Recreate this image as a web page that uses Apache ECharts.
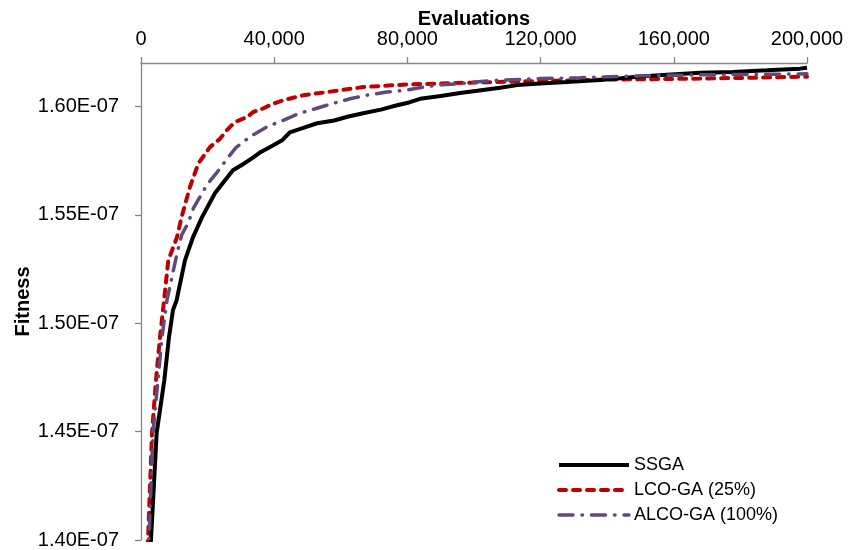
<!DOCTYPE html>
<html>
<head>
<meta charset="utf-8">
<script src="https://cdn.jsdelivr.net/npm/echarts@6/dist/echarts.min.js"></script>
<style>html,body{margin:0;padding:0;background:#fff;}#c{width:849px;height:550px;}</style>
</head>
<body>
<div id="c"></div>
<script>
// Fitness values are in units of 1E-07
const seriesNames = ['SSGA', 'LCO-GA (25%)', 'ALCO-GA (100%)'];
const xTicks = [0, 40000, 80000, 120000, 160000, 200000];
const yTicks = [1.40, 1.45, 1.50, 1.55, 1.60];

const ssgaEval = [2500, 3000, 4700, 7000, 8400, 9600, 10700, 13200, 15600, 18300, 22200, 25000, 27600, 30500, 33300, 36000, 39600, 42500, 44700, 48500, 52900, 58000, 62000, 66700, 72000, 76900, 80500, 83800, 90000, 95800, 101000, 107800, 113000, 119800, 127900, 137800, 144000, 149900, 158000, 167900, 177800, 188000, 197900, 200000];
const ssgaFit  = [1.390, 1.400, 1.4493, 1.4737, 1.4935, 1.5060, 1.5106, 1.5290, 1.5396, 1.5488, 1.5599, 1.5655, 1.5705, 1.5732, 1.5760, 1.5790, 1.5820, 1.5845, 1.5880, 1.5900, 1.5922, 1.5935, 1.5952, 1.5968, 1.5985, 1.6005, 1.6018, 1.6035, 1.6048, 1.6062, 1.6072, 1.6086, 1.6098, 1.6105, 1.6112, 1.6122, 1.6130, 1.6138, 1.6146, 1.6155, 1.6158, 1.6166, 1.6174, 1.6178];

const lcoEval = [1700, 2100, 3300, 4500, 5700, 6700, 8200, 10800, 12200, 14700, 17200, 20700, 23700, 25700, 28200, 31800, 33700, 36600, 39700, 42600, 48700, 56800, 66700, 79800, 97900, 119800, 137800, 167900, 182900, 200000];
const lcoFit  = [1.390, 1.400, 1.4493, 1.4737, 1.4935, 1.5075, 1.5290, 1.5396, 1.5490, 1.5628, 1.5736, 1.5812, 1.5850, 1.5889, 1.5928, 1.5950, 1.5974, 1.5990, 1.6012, 1.6028, 1.6051, 1.6068, 1.6089, 1.6101, 1.6109, 1.6117, 1.6123, 1.6128, 1.6132, 1.6137];

const alcoEval = [2000, 2400, 3600, 5100, 6300, 7800, 9200, 10700, 12200, 14200, 15700, 17700, 19900, 22900, 25900, 28500, 32900, 38200, 42700, 47200, 52300, 57300, 62800, 68000, 73800, 79300, 84800, 90400, 95800, 102100, 107800, 119800, 131800, 143800, 158000, 170900, 182900, 200000];
const alcoFit  = [1.390, 1.400, 1.4493, 1.4737, 1.4935, 1.5106, 1.5206, 1.5313, 1.5406, 1.5464, 1.5529, 1.5582, 1.5641, 1.5697, 1.5759, 1.5810, 1.5862, 1.5909, 1.5935, 1.5966, 1.5989, 1.6012, 1.6035, 1.6052, 1.6066, 1.6074, 1.6089, 1.6100, 1.6105, 1.6115, 1.6121, 1.6128, 1.6132, 1.6138, 1.6143, 1.6146, 1.6147, 1.6150];

function pairs(xs, ys) { return xs.map((x, i) => [x, ys[i]]); }
function fmtThousands(v) { return String(v).replace(/\B(?=(\d{3})+(?!\d))/g, ','); }

const FONT = '"Liberation Sans", Arial, sans-serif';
const axisGray = '#868686';

const chart = echarts.init(document.getElementById('c'), null, {renderer: 'canvas'});
chart.setOption({
  animation: false,
  backgroundColor: '#ffffff',
  grid: {left: 141, right: 42, top: 63, bottom: 10, containLabel: false, outerBoundsMode: 'none'},
  xAxis: {
    type: 'value', position: 'top',
    min: xTicks[0], max: xTicks[xTicks.length - 1], interval: xTicks[1] - xTicks[0],
    name: 'Evaluations', nameLocation: 'middle', nameGap: 34, nameMoveOverlap: false,
    nameTextStyle: {fontFamily: FONT, fontSize: 20, fontWeight: 'bold', color: '#000'},
    axisLine: {show: true, lineStyle: {color: axisGray, width: 1.3}},
    axisTick: {show: true, length: 6, lineStyle: {color: axisGray, width: 1.3}},
    axisLabel: {margin: 14, fontFamily: FONT, fontSize: 20, color: '#000', formatter: fmtThousands},
    splitLine: {show: false}
  },
  yAxis: {
    type: 'value',
    min: yTicks[0], max: 1.62, interval: 0.05,
    name: 'Fitness', nameLocation: 'middle', nameGap: 108, nameRotate: 90, nameMoveOverlap: false,
    nameTextStyle: {fontFamily: FONT, fontSize: 20, fontWeight: 'bold', color: '#000'},
    axisLine: {show: true, lineStyle: {color: axisGray, width: 1.3}},
    axisTick: {show: true, length: 6, lineStyle: {color: axisGray, width: 1.3}},
    axisLabel: {margin: 22, fontFamily: FONT, fontSize: 20, color: '#000', showMaxLabel: false,
      formatter: v => v.toFixed(2) + 'E-07'},
    splitLine: {show: false}
  },
  legend: {
    orient: 'vertical', left: 552, top: 451,
    itemWidth: 70, itemHeight: 14, itemGap: 7,
    itemStyle: {opacity: 0},
    lineStyle: {width: 'inherit'},
    textStyle: {fontFamily: FONT, fontSize: 18, color: '#000'},
    data: seriesNames
  },
  series: [
    {name: seriesNames[0], type: 'line', data: pairs(ssgaEval, ssgaFit), showSymbol: false, symbol: 'none', clip: true, z: 3,
     lineStyle: {color: '#000000', width: 4}, itemStyle: {color: '#000000'}},
    {name: seriesNames[1], type: 'line', data: pairs(lcoEval, lcoFit), showSymbol: false, symbol: 'none', clip: true, z: 2,
     lineStyle: {color: '#c00000', width: 4, type: [7, 7], cap: 'round'}, itemStyle: {color: '#c00000'}},
    {name: seriesNames[2], type: 'line', data: pairs(alcoEval, alcoFit), showSymbol: false, symbol: 'none', clip: true, z: 4,
     lineStyle: {color: '#604a7b', width: 3.5, type: [14, 9, 0.5, 9], cap: 'round'}, itemStyle: {color: '#604a7b'}}
  ]
});
</script>
</body>
</html>
